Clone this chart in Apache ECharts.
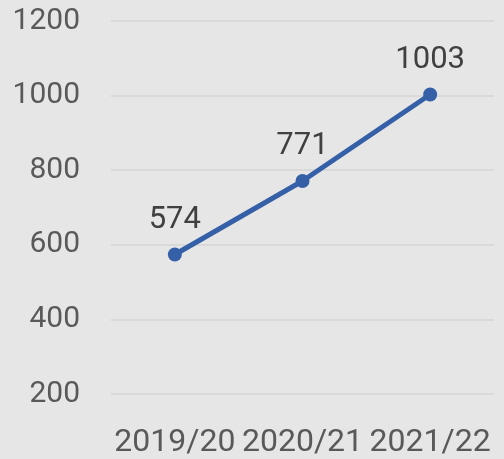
<!DOCTYPE html>
<html>
<head>
<meta charset="utf-8">
<style>
  html, body { margin: 0; padding: 0; background: #e6e6e6; }
  #chart { width: 504px; height: 459px; }
</style>
<script src="https://cdn.jsdelivr.net/npm/echarts@6/dist/echarts.min.js"></script>
</head>
<body>
<div id="chart"></div>
<script>
// 年度
var years = ['2019/20', '2020/21', '2021/22']
// 数值
var values = [574, 771, 1003]
// y轴刻度
var yMin = 200
var yMax = 1200
var yStep = 200

var chart = echarts.init(document.getElementById('chart'))
chart.setOption({
  backgroundColor: '#e6e6e6',
  animation: false,
  grid: { left: 111, right: 10, top: 21, bottom: 61 },
  xAxis: {
    type: 'category',
    data: years,
    boundaryGap: true,
    axisLine: { show: false },
    axisTick: { show: false },
    axisLabel: {
      interval: 0,
      color: '#595959',
      fontFamily: 'Roboto',
      fontSize: 32,
      margin: 33
    }
  },
  yAxis: {
    type: 'value',
    min: yMin,
    max: yMax,
    interval: yStep,
    axisLine: { show: false },
    axisTick: { show: false },
    splitLine: { lineStyle: { color: '#d9d9d9', width: 2 } },
    axisLabel: {
      color: '#595959',
      fontFamily: 'Roboto',
      fontSize: 30,
      margin: 31,
      formatter: function (v) { return String(v) }
    }
  },
  series: [
    {
      type: 'line',
      data: values,
      symbol: 'circle',
      symbolSize: 14,
      itemStyle: { color: '#3560a8' },
      lineStyle: { color: '#3560a8', width: 5 },
      label: {
        show: true,
        position: 'top',
        distance: 12,
        color: '#404040',
        fontFamily: 'Roboto',
        fontSize: 31
      }
    }
  ]
})
</script>
</body>
</html>
